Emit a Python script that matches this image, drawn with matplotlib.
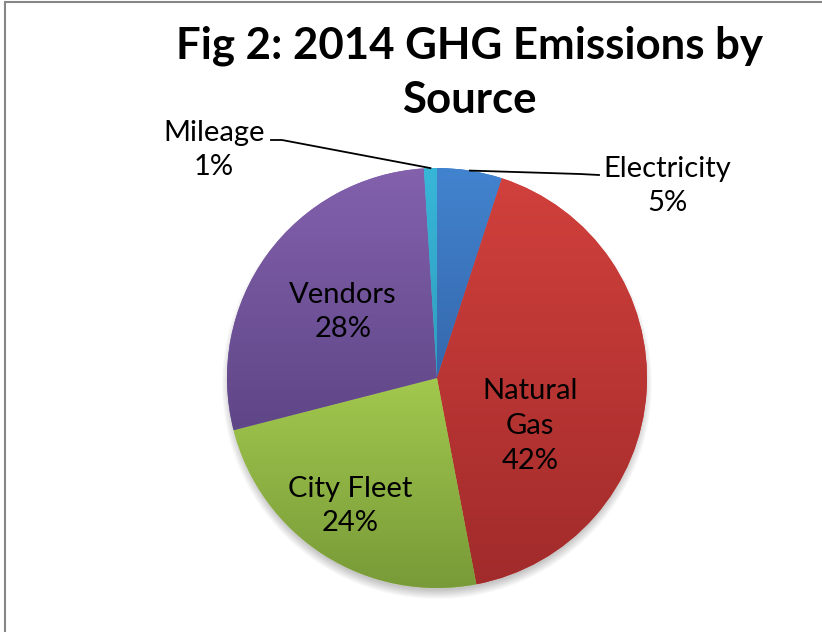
import numpy as np
import matplotlib
matplotlib.use('Agg')
import matplotlib.pyplot as plt
from matplotlib.colors import to_rgb
from matplotlib.patches import Circle, Rectangle

plt.rcParams['font.family'] = ['Lato', 'DejaVu Sans']

# data
sources = ['Electricity', 'Natural Gas', 'City Fleet', 'Vendors', 'Mileage']
shares = [5, 42, 24, 28, 1]
label_text = ['Electricity\n5%', 'Natural\nGas\n42%', 'City Fleet\n24%', 'Vendors\n28%', 'Mileage\n1%']
top_colors = ['#4283CF', '#D1403C', '#A2C84E', '#8361AD', '#38B6D8']
bot_colors = ['#3568AC', '#A12B2B', '#789A38', '#5F4687', '#2F9EBF']

W, H = 822, 632
fig = plt.figure(figsize=(W / 100, H / 100), dpi=100)
ax = fig.add_axes([0, 0, 1, 1])

cx, cy, R = 437, H - 378, 210

# soft shadow under the pie
for i in range(10):
    ax.add_patch(Circle((cx, cy - 6), R + 5 - i, color='black', alpha=0.025, lw=0, zorder=0))

wedges, _ = ax.pie(shares, startangle=90, counterclock=False, radius=R, center=(cx, cy),
                   colors=top_colors, wedgeprops=dict(linewidth=0))

# vertical gradient in each slice
for w, c1, c2 in zip(wedges, top_colors, bot_colors):
    bb = w.get_path().get_extents()
    t = np.linspace(0, 1, 256)[:, None]
    grad = (1 - t) * np.array(to_rgb(c2)) + t * np.array(to_rgb(c1))
    im = ax.imshow(grad[:, None, :], extent=[bb.x0, bb.x1, bb.y0, bb.y1], origin='lower',
                   aspect='auto', zorder=w.get_zorder() + 0.1, interpolation='bilinear')
    im.set_clip_path(w)

ax.set_xlim(0, W)
ax.set_ylim(0, H)
ax.axis('off')

fs = 21
ls = 1.42
# inside labels
inside_pos = {1: (530, 426), 2: (350, 506), 3: (343, 312)}
for i, (x, y) in inside_pos.items():
    ax.text(x, H - y, label_text[i], ha='center', va='center', fontsize=fs,
            linespacing=ls, zorder=5)

# outside labels with leader lines
def mid_point(w):
    a = np.deg2rad((w.theta1 + w.theta2) / 2)
    return cx + R * np.cos(a), cy + R * np.sin(a)

ex, ey = mid_point(wedges[0])
ax.plot([ex, 580, 599], [ey, H - 174, H - 175], color='black', lw=1.3, zorder=6)
ax.text(667, H - 186, label_text[0], ha='center', va='center', fontsize=fs,
        linespacing=ls, zorder=6)

mx, my = mid_point(wedges[4])
ax.plot([mx, 282, 271], [my, H - 140, H - 140], color='black', lw=1.3, zorder=6)
ax.text(214, H - 150, label_text[4], ha='center', va='center', fontsize=fs,
        linespacing=ls, zorder=6)

# title
ax.text(469, H - 73, 'Fig 2: 2014 GHG Emissions by\nSource', ha='center', va='center',
        fontsize=31.5, fontweight='bold', linespacing=1.43, zorder=6)

# chart area border (cropped at right and bottom)
fig.patches.append(Rectangle((5 / W, -0.1), 1.2, (H - 2) / H + 0.1, transform=fig.transFigure,
                             fill=False, edgecolor='#868686', lw=1.5))

fig.savefig('out.png', dpi=100)
